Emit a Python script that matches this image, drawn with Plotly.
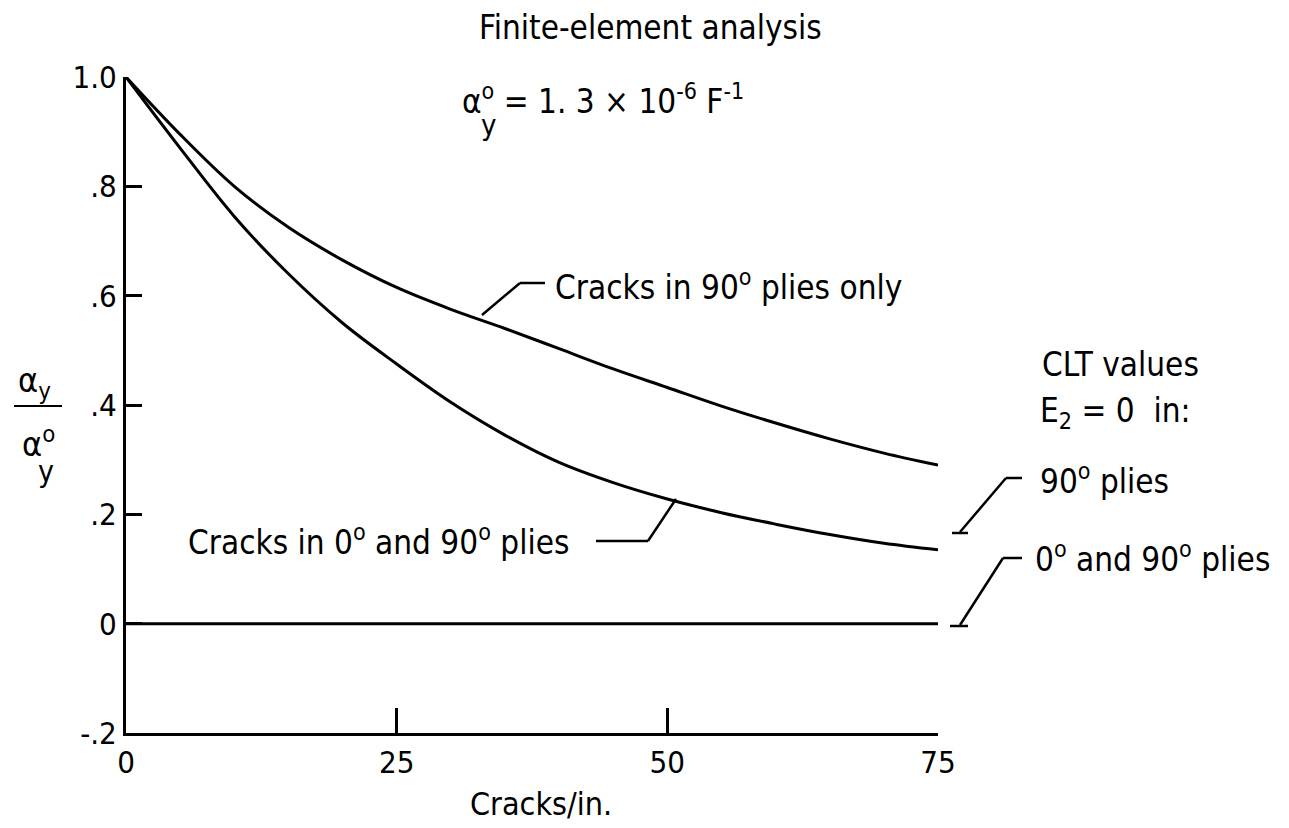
import plotly.graph_objects as go

x_cracks = [0, 5, 10, 15, 20, 25, 30, 35, 40, 45, 50, 55, 60, 65, 70, 75]
y_90_only = [1.0, 0.895, 0.80, 0.725, 0.665, 0.615, 0.575, 0.54, 0.503, 0.466, 0.432, 0.398, 0.367, 0.338, 0.312, 0.29]
y_0_and_90 = [1.0, 0.87, 0.745, 0.64, 0.55, 0.475, 0.405, 0.345, 0.295, 0.258, 0.228, 0.203, 0.182, 0.163, 0.147, 0.135]
x_zero = [0, 75.6]
y_zero = [0, 0]
x_ticks = [0, 25, 50, 75]
y_ticks = [-0.2, 0, 0.2, 0.4, 0.6, 0.8, 1.0]
y_ticklabels = ["-.2", "0", ".2", ".4", ".6", ".8", "1.0"]

FONT = "DejaVu Sans Condensed"
W, H = 1289, 828
OFF = 8  # page body margin
X0, X1 = 126, 938      # screen px of plot area
Y0, Y1 = 77, 733
L, T = X0 - OFF, Y0 - OFF
PW, PH = X1 - X0, Y1 - Y0
R, B = W - L - PW, H - T - PH

def px(x):
    return (x - X0) / PW

def py(y):
    return (Y1 - y) / PH

fig = go.Figure()
line = dict(color="black", width=3)
fig.add_trace(go.Scatter(x=x_cracks, y=y_90_only, mode="lines", line=dict(line, shape="spline"),
                         showlegend=False, cliponaxis=False))
fig.add_trace(go.Scatter(x=x_cracks, y=y_0_and_90, mode="lines", line=dict(line, shape="spline"),
                         showlegend=False, cliponaxis=False))
fig.add_trace(go.Scatter(x=x_zero, y=y_zero, mode="lines", line=line, showlegend=False, cliponaxis=False))

fig.update_layout(
    width=W, height=H,
    margin=dict(l=L, r=R, t=T, b=B),
    paper_bgcolor="white", plot_bgcolor="white",
    font=dict(family=FONT, size=30, color="black"),
    xaxis=dict(range=[0, 75], tickvals=x_ticks, ticktext=[str(v) for v in x_ticks],
               showgrid=False, zeroline=False, showline=True, linecolor="black", linewidth=3,
               ticks="inside", ticklen=25, tickwidth=2.5, tickcolor="black",
               tickfont=dict(size=31)),
    yaxis=dict(range=[-0.2, 1.0], tickvals=y_ticks, ticktext=y_ticklabels,
               showgrid=False, zeroline=False, showline=True, linecolor="black", linewidth=3,
               ticks="inside", ticklen=16, tickwidth=2.5, tickcolor="black",
               tickfont=dict(size=31)),
)

ann = []
def text(x, y, s, size=33, xanchor="center"):
    ann.append(dict(x=px(x), y=py(y), xref="paper", yref="paper", text=s, showarrow=False,
                    font=dict(family=FONT, size=size, color="black"), xanchor=xanchor, yanchor="middle"))

text(650, 27, "Finite-element analysis", size=33)
text(460, 100, "α<sup>o</sup> = 1. 3 × 10<sup>-6</sup> F<sup>-1</sup>", size=33, xanchor="left")
text(488, 125, "y", size=29)
text(553, 285, "Cracks in 90<sup>o</sup> plies only", xanchor="left")
text(186, 540, "Cracks in 0<sup>o</sup> and 90<sup>o</sup> plies", xanchor="left")
text(1040, 365, "CLT values", xanchor="left")
text(1038, 412, "E<sub>2</sub> = 0  in:", xanchor="left")
text(1038, 480, "90<sup>o</sup> plies", xanchor="left")
text(1033, 557, "0<sup>o</sup> and 90<sup>o</sup> plies", xanchor="left")
text(16, 382, "α<sub>y</sub>", size=34, xanchor="left")
text(20, 442, "α<sup>o</sup>", size=34, xanchor="left")
text(46, 472, "y", size=30)
text(541, 804, "Cracks/in.", size=32)
fig.update_layout(annotations=ann)

shapes = []
def seg(x0, y0, x1, y1, w=2.5):
    shapes.append(dict(type="line", xref="paper", yref="paper", x0=px(x0), y0=py(y0), x1=px(x1), y1=py(y1),
                       line=dict(color="black", width=w)))

seg(14, 406, 62, 406, 2)
# leader: 90 only
seg(545, 283, 520, 283)
seg(520, 283, 482, 315)
# leader: 0 and 90
seg(596, 541, 648, 541)
seg(648, 541, 676, 499)
# leader: CLT 90 plies
seg(1022, 478, 1006, 478)
seg(1006, 478, 960, 532)
seg(952, 533, 968, 533)
# leader: CLT 0 and 90 plies
seg(1022, 558, 1003, 558)
seg(1003, 558, 960, 625)
seg(950, 626, 968, 626)
fig.update_layout(shapes=shapes)

fig.write_html("out.html")
